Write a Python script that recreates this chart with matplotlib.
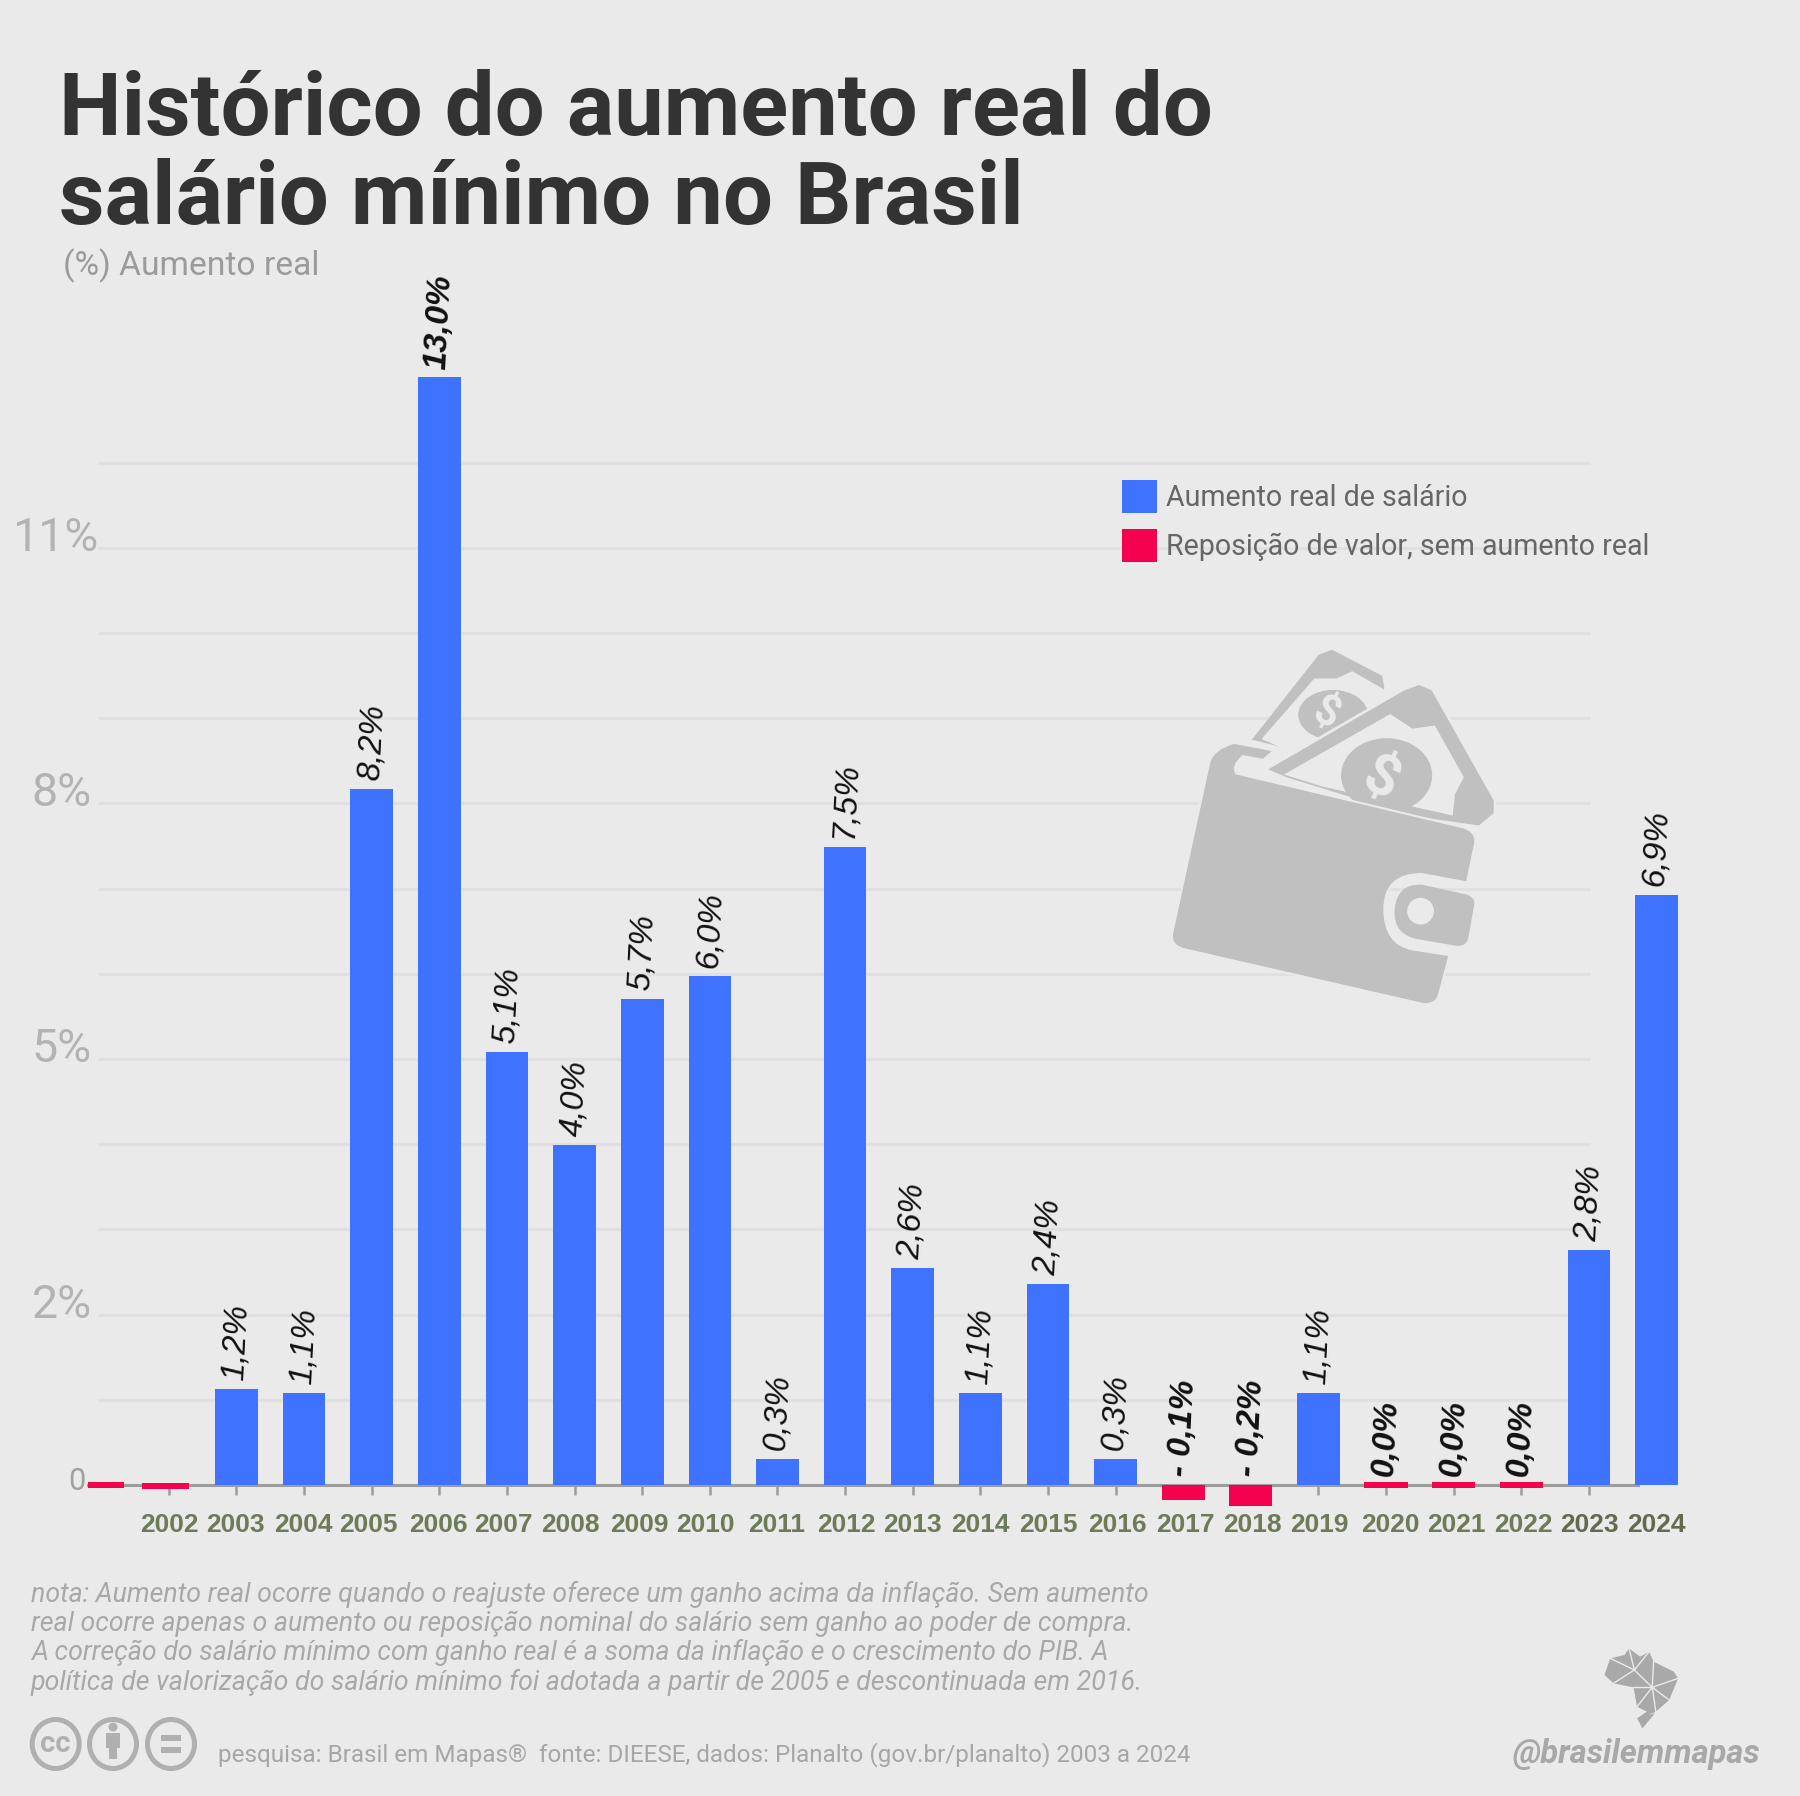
import numpy as np
import matplotlib
matplotlib.use('Agg')
import matplotlib.pyplot as plt
from matplotlib.patches import PathPatch, Ellipse, Rectangle, Polygon
from matplotlib.path import Path
from matplotlib.transforms import Affine2D, ScaledTranslation

# values
real_years = [2003, 2004, 2005, 2006, 2007, 2008, 2009, 2010, 2011, 2012, 2013,
              2014, 2015, 2016, 2019, 2023, 2024]
real_values = [1.13, 1.08, 8.17, 13.0, 5.08, 3.99, 5.71, 5.97, 0.31, 7.49, 2.55,
               1.08, 2.36, 0.31, 1.08, 2.76, 6.93]
repo_years = [2001, 2002, 2017, 2018, 2020, 2021, 2022]
repo_top = [0.03, 0.02, 0.0, 0.0, 0.03, 0.03, 0.03]
repo_bottom = [-0.04, -0.05, -0.175, -0.25, -0.04, -0.04, -0.04]
tick_years = list(range(2002, 2025))
label_years = list(range(2003, 2025))
label_texts = ['1,2%', '1,1%', '8,2%', '13,0%', '5,1%', '4,0%', '5,7%', '6,0%', '0,3%',
               '7,5%', '2,6%', '1,1%', '2,4%', '0,3%', '- 0,1%', '- 0,2%', '1,1%',
               '0,0%', '0,0%', '0,0%', '2,8%', '6,9%']
bold_labels = ['13,0%', '- 0,1%', '- 0,2%', '0,0%']
ytick_values = [0, 2, 5, 8, 11]
ytick_texts = ['0', '2%', '5%', '8%', '11%']
grid_values = list(range(1, 13))

title_lines = ['Histórico do aumento real do', 'salário mínimo no Brasil']
note_lines = ['nota: Aumento real ocorre quando o reajuste oferece um ganho acima da inflação. Sem aumento',
              'real ocorre apenas o aumento ou reposição nominal do salário sem ganho ao poder de compra.',
              'A correção do salário mínimo com ganho real é a soma da inflação e o crescimento do PIB. A',
              'política de valorização do salário mínimo foi adotada a partir de 2005 e descontinuada em 2016.']

BG = '#eaeaea'
BLUE = '#3e72ff'
RED = '#f5024f'
ICON = '#c0c0c0'
W, H = 1800, 1796
X0, XS = 236.5, 67.62   # pixel of 2003, pixels per year
Y0, YS = 1485.0, 85.2   # pixel of zero, pixels per percent

plt.rcParams['font.family'] = ['Roboto', 'DejaVu Sans']

fig = plt.figure(figsize=(W / 100, H / 100), dpi=100, facecolor=BG)
ax = fig.add_axes([0, 0, 1, 1], facecolor='none')
ax.set_xlim(2003 - X0 / XS, 2003 + (W - X0) / XS)
ax.set_ylim(-(H - Y0) / YS, Y0 / YS)

# pixel coordinates, y going down
pix = Affine2D().scale(1 / W, -1 / H).translate(0, 1) + fig.transFigure


def ftext(x, y, s, **kw):
    return ax.text(x, y, s, transform=pix, va=kw.pop('va', 'baseline'), **kw)


def year_at(px):
    return 2003 + (px - X0) / XS


# grid
ax.hlines(grid_values, year_at(98), year_at(1590), color='#e0e0e0', lw=2.2, zorder=1)

# bars
ax.bar(real_years, real_values, width=0.63, color=BLUE, zorder=3, label='Aumento real de salário')
repo_x = np.array(repo_years, dtype=float)
repo_w = np.full(len(repo_years), 0.64)
repo_x[0] += 0.07
repo_x[1] -= 0.05
repo_w[0] = 0.53
repo_w[1] = 0.70
ax.bar(repo_x, np.array(repo_top) - np.array(repo_bottom), bottom=repo_bottom, width=repo_w,
       color=RED, zorder=3, label='Reposição de valor, sem aumento real')

# value labels
for yr, txt in zip(label_years, label_texts):
    if yr in real_years:
        top = real_values[real_years.index(yr)]
    else:
        top = 0
    bold = txt in bold_labels
    ax.annotate(txt, (yr, top), xytext=(0, 5.5), textcoords='offset points', ha='center',
                va='bottom', rotation=87, fontsize=24, style='italic', color='#111111',
                weight='bold' if bold else 'normal', family='Liberation Sans', zorder=5)

# axis
for s in ['top', 'left', 'right']:
    ax.spines[s].set_visible(False)
ax.spines['bottom'].set_position(('data', 0))
ax.spines['bottom'].set_bounds(year_at(88), year_at(1638))
ax.spines['bottom'].set_color('#9c9c9c')
ax.spines['bottom'].set_linewidth(2.2)
ax.set_yticks([])
ax.set_xticks(tick_years)
ax.set_xticklabels([str(y) for y in tick_years], family='Liberation Sans', weight='bold', fontsize=19)
ax.tick_params(axis='x', length=7.2, width=1.8, color='#9c9c9c', pad=13)
label_dx = [0, -1, -1, -3, -1, -4, -4, -3, -4, -1, 1, 0, 0, 0, 2, 2, 2, 1, 4, 3, 2, 1, 0]
for t, yr, dx in zip(ax.get_xticklabels(), tick_years, label_dx):
    t.set_color('#6d7b58' if yr < 2023 else '#626b50')
    t.set_transform(t.get_transform() + ScaledTranslation(dx * 0.01, 0, fig.dpi_scale_trans))
ax.get_xticklines()[-2].set_visible(False)

# y labels, baseline just under their grid lines
for v, s in zip(ytick_values, ytick_texts):
    if v == 0:
        ftext(85, 1481, s, ha='right', va='center', fontsize=22, color='#a0a0a0')
    else:
        right = 98 if v == 11 else 91.5
        ftext(right, Y0 - v * YS + 3, s, ha='right', fontsize=33.5, color='#b3b3b3')

# titles and notes
ftext(59, 135.5, title_lines[0], fontsize=63.7, weight='bold', color='#333333')
ftext(59, 224, title_lines[1], fontsize=63.7, weight='bold', color='#333333')
ftext(63, 275, '(%) Aumento real', fontsize=24.2, color='#9b9b9b')
for y, line in zip([1602, 1631, 1660, 1690], note_lines):
    ftext(31, y, line, fontsize=19.3, style='italic', color='#a8a8a8')
ftext(218, 1761, 'pesquisa: Brasil em Mapas®  fonte: DIEESE, dados: Planalto (gov.br/planalto) 2003 a 2024',
      fontsize=17.5, color='#a6a6a6')
ftext(1513, 1763, '@brasilemmapas', fontsize=23.5, weight='bold', style='italic', color='#a8a8a8')

# legend
leg = ax.legend(loc='upper left', bbox_to_anchor=(1122 / W, 1 - 480 / H), bbox_transform=fig.transFigure,
                frameon=False, fontsize=20.6, borderpad=0, borderaxespad=0, handlelength=1.22,
                handleheight=1.41, handletextpad=0.32, labelspacing=0.56, labelcolor='#666666')


# wallet icon, points taken from a crop of the picture
def wz(pts):
    return [(1100 + x / 2.24, 450 + y / 2.613) for x, y in pts]


def poly(pts, color, z, edge=None, lw=0):
    p = Polygon(wz(pts), closed=True, facecolor=color, edgecolor=edge or color, lw=lw, transform=pix,
                zorder=z, joinstyle='round')
    ax.add_patch(p)


def wallet_ellipse(cx, cy, rx, ry, color, z):
    x, y = wz([(cx, cy)])[0]
    ax.add_patch(Ellipse((x, y), rx * 2 / 2.24, ry * 2 / 2.613, facecolor=color, edgecolor='none',
                         transform=pix, zorder=z))


# rear note
poly([(340, 757), (490, 535), (520, 522), (632, 590), (637, 622), (600, 680), (420, 780)], ICON, 3)
poly([(362, 755), (480, 597), (530, 597), (565, 578), (640, 628), (600, 690), (430, 790)], BG, 3.1)
wallet_ellipse(522, 692, 78, 65, ICON, 3.2)
ftext(1100 + 505 / 2.24, 450 + 690 / 2.613, '$', fontsize=30, weight='bold', color=BG, rotation=-25,
      ha='center', va='center', zorder=3.3)
# front note
poly([(370, 835), (680, 625), (715, 610), (745, 625), (885, 915), (885, 950), (850, 985), (700, 960), (420, 860)],
     ICON, 3.4, edge=BG, lw=2)
poly([(412, 848), (650, 690), (700, 728), (750, 720), (815, 855), (795, 900), (790, 955), (500, 880)], BG, 3.5)
wallet_ellipse(642, 850, 102, 97, ICON, 3.6)
ftext(1100 + 628 / 2.24, 450 + 862 / 2.613, '$', fontsize=42, weight='bold', color=BG, rotation=-25,
      ha='center', va='center', zorder=3.7)

# wallet body with rounded corners
b = wz([(300, 765), (255, 780), (245, 815), (162, 1260), (155, 1295), (190, 1305), (725, 1448), (755, 1450),
        (760, 1420), (783, 1320), (700, 1305), (637, 1290), (637, 1200), (637, 1108), (720, 1108),
        (822, 1130), (840, 1030), (845, 995), (810, 985), (305, 845), (295, 825), (320, 800), (365, 810), (390, 785)])
codes = [Path.MOVETO, Path.CURVE3, Path.CURVE3, Path.LINETO, Path.CURVE3, Path.CURVE3, Path.LINETO, Path.CURVE3,
         Path.CURVE3, Path.LINETO, Path.LINETO, Path.CURVE3, Path.CURVE3, Path.CURVE3, Path.CURVE3,
         Path.LINETO, Path.LINETO, Path.CURVE3, Path.CURVE3, Path.LINETO, Path.CURVE3, Path.CURVE3,
         Path.LINETO, Path.LINETO]
ax.add_patch(PathPatch(Path(b + [b[0]], codes + [Path.LINETO]), facecolor=ICON, edgecolor=BG, lw=1.5,
                       transform=pix, zorder=4))
c = wz([(722, 1136), (815, 1160), (842, 1165), (838, 1190), (825, 1275), (820, 1300), (795, 1295), (720, 1280),
        (655, 1270), (660, 1200), (665, 1132), (722, 1136)])
ax.add_patch(PathPatch(Path(c, [Path.MOVETO, Path.LINETO, Path.CURVE3, Path.CURVE3, Path.LINETO, Path.CURVE3, Path.CURVE3,
                                Path.LINETO, Path.CURVE3, Path.CURVE3, Path.CURVE3, Path.CURVE3]),
                       facecolor=ICON, edgecolor='none', transform=pix, zorder=4))
wallet_ellipse(718, 1205, 30, 35, BG, 4.1)


# Brazil logo
def bz(pts):
    return [(1100 + x / 2.24, 1350 + y / 3) for x, y in pts]


outline = [(1130, 975), (1143, 925), (1175, 915), (1185, 895), (1210, 920), (1230, 905), (1240, 935), (1285, 965),
           (1295, 985), (1275, 1050), (1245, 1085), (1228, 1095), (1243, 1090), (1215, 1135), (1203, 1105),
           (1225, 1085), (1203, 1070), (1195, 1012), (1150, 1000)]
ax.add_patch(Polygon(bz(outline), closed=True, facecolor='#a9a9a9', edgecolor='none', transform=pix, zorder=3))
hubs = [((1197, 960), [(1143, 925), (1185, 895), (1230, 905), (1150, 1000), (1237, 1012)]),
        ((1237, 1012), [(1240, 935), (1295, 985), (1275, 1050), (1245, 1085), (1203, 1070), (1195, 1012)])]
for hub, ends in hubs:
    for e in ends:
        (x1, y1), (x2, y2) = bz([hub, e])
        ax.plot([x1, x2], [y1, y2], color=BG, lw=1, transform=pix, zorder=3.1)

# cc badges
for cx in [55.7, 113, 171]:
    ax.add_patch(Ellipse((cx, 1744), 47, 49, facecolor='none', edgecolor='#b0b0b0', lw=3.6, transform=pix, zorder=3))
ftext(55.7, 1744, 'cc', fontsize=21, weight='bold', color='#b0b0b0', ha='center', va='center')
ax.add_patch(Ellipse((113, 1727), 9, 9, facecolor='#b0b0b0', edgecolor='none', transform=pix, zorder=3))
ax.add_patch(Rectangle((106, 1733), 14, 15, facecolor='#b0b0b0', edgecolor='none', transform=pix, zorder=3))
ax.add_patch(Rectangle((109, 1746), 8, 13, facecolor='#b0b0b0', edgecolor='none', transform=pix, zorder=3))
ax.add_patch(Rectangle((161, 1735), 20, 6, facecolor='#b0b0b0', edgecolor='none', transform=pix, zorder=3))
ax.add_patch(Rectangle((161, 1747), 20, 6, facecolor='#b0b0b0', edgecolor='none', transform=pix, zorder=3))

fig.savefig('out.png', dpi=100, facecolor=BG)
